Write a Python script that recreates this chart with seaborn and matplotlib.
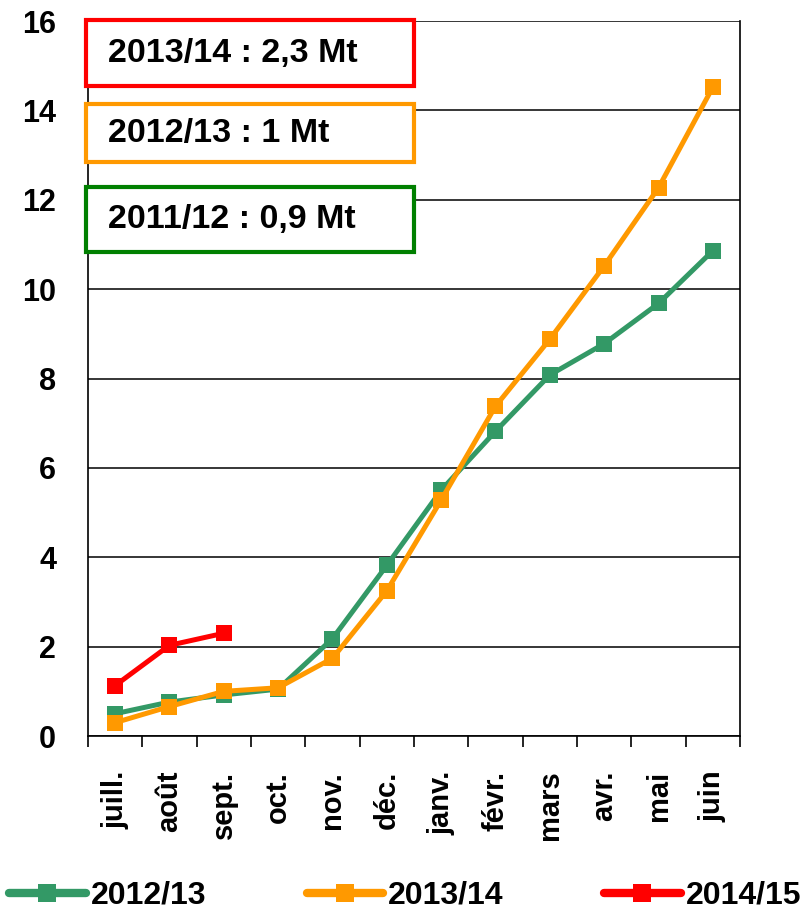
import pandas as pd
import numpy as np
import seaborn as sns
import matplotlib.pyplot as plt
from matplotlib.patches import Rectangle

months = ['juill.', 'août', 'sept.', 'oct.', 'nov.', 'déc.',
          'janv.', 'févr.', 'mars', 'avr.', 'mai', 'juin']
s_1213 = [0.50, 0.76, 0.92, 1.05, 2.18, 3.82, 5.50, 6.82, 8.08, 8.78, 9.68, 10.86]
s_1314 = [0.30, 0.66, 1.00, 1.08, 1.74, 3.25, 5.28, 7.38, 8.88, 10.52, 12.27, 14.52]
s_1415 = [1.13, 2.03, 2.30]
series = ['2012/13', '2013/14', '2014/15']
colors = ['#339966', '#FF9900', '#FF0000']
notes = ['2013/14 : 2,3 Mt', '2012/13 : 1 Mt', '2011/12 : 0,9 Mt']
note_colors = ['#FF0000', '#FF9900', '#008000']

rows = []
for name, vals in zip(series, [s_1213, s_1314, s_1415]):
  for m, v in zip(months, vals):
    rows.append({'mois': m, 'val': v, 'campagne': name})
df = pd.DataFrame(rows)

sns.set_style('white')
plt.rcParams['font.family'] = ['Liberation Sans', 'DejaVu Sans']
plt.rcParams['font.weight'] = 'bold'
plt.rcParams['text.color'] = 'black'
plt.rcParams['xtick.color'] = 'black'
plt.rcParams['ytick.color'] = 'black'

fig = plt.figure(figsize=(8.02, 9.15), dpi=100)
ax = fig.add_axes([0.1097, 0.1956, 0.813, 0.7814])
sns.lineplot(
  data=df, x='mois', y='val', hue='campagne', hue_order=series,
  palette=colors, marker='s', markersize=11, markeredgewidth=0,
  linewidth=3.6, sort=False, ax=ax, legend=False,
)
ax.set_xlim(-0.5, 11.5)
ax.set_ylim(0, 16)
ax.set_yticks(np.arange(0, 17, 2))
ax.set_xticks(range(12))
ax.set_xticklabels(months, rotation=90, fontsize=21, fontweight='bold')
ax.set_xticks(np.arange(-0.5, 12, 1), minor=True)
ax.tick_params(axis='x', which='major', length=0, pad=25)
ax.tick_params(axis='x', which='minor', length=8, width=1.2, direction='out', color='black', bottom=True)
ax.tick_params(axis='y', length=0, pad=23, labelsize=22)
for lab in ax.get_yticklabels():
  lab.set_fontweight('bold')
ax.grid(axis='y', color='black', linewidth=1.1)
ax.set_axisbelow(True)
for side in ['left', 'right', 'bottom']:
  ax.spines[side].set_color('black')
  ax.spines[side].set_linewidth(1.2)
ax.spines['top'].set_visible(False)
ax.set_xlabel(None)
ax.set_ylabel(None)

# encadrés des campagnes précédentes
tops = [1.0014, 0.8839, 0.7678]
bottoms = [0.909, 0.8028, 0.6769]
for txt, c, t, b in zip(notes, note_colors, tops, bottoms):
  ax.add_patch(Rectangle((-0.003, b), 0.503, t - b, transform=ax.transAxes,
                         facecolor='white', edgecolor=c, linewidth=3,
                         clip_on=False, zorder=5))
  ax.text(0.031, (t + b) / 2, txt, transform=ax.transAxes, fontsize=24.5,
          fontweight='bold', va='center', ha='left', zorder=6)

leg = fig.legend(ax.get_lines()[:3], series, loc='center', ncol=3,
                 frameon=False, handlelength=2.4, columnspacing=3.15,
                 handletextpad=0.15, bbox_to_anchor=(0.505, 0.021),
                 prop={'size': 23, 'weight': 'bold'})
for h in leg.legend_handles:
  h.set_linewidth(6)
  h.set_markersize(13)
fig.savefig('out.png', dpi=100)
